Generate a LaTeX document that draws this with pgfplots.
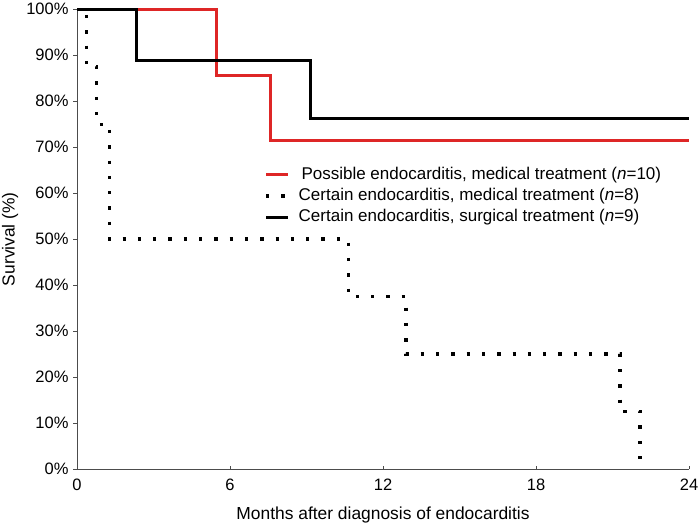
\documentclass[border=0pt]{standalone}
\usepackage{fontspec}
\setmainfont{Liberation Sans}
\usepackage{pgfplots}
\pgfplotsset{compat=1.18}
\definecolor{kmred}{RGB}{222,38,38}
\begin{document}
\begin{tikzpicture}
\useasboundingbox (-77pt,-58pt) rectangle (623pt,469pt);
\begin{axis}[
  scale only axis,
  width=612pt, height=459.7pt,
  xmin=0, xmax=24, ymin=0, ymax=100,
  axis lines=left,
  axis line style={-, line width=1pt, black!70},
  clip=false,
  xtick={0,6,12,18,24},
  xticklabels={0,6,12,18,24},
  ytick={0,10,...,100},
  yticklabels={0\%,10\%,20\%,30\%,40\%,50\%,60\%,70\%,80\%,90\%,100\%},
  xtick align=inside,
  ytick align=outside,
  major tick length=3.5pt,
  tick style={line width=1pt, black!70},
  tick label style={font=\fontsize{16.5}{19}\selectfont},
  xticklabel style={yshift=-6pt},
  yticklabel style={xshift=-1.5pt},
  xlabel={Months after diagnosis of endocarditis},
  ylabel={Survival (\%)},
  label style={font=\fontsize{17.4}{20}\selectfont},
  xlabel style={at={(rel axis cs:0.5,0)}, anchor=center, yshift=-46pt},
  ylabel style={at={([xshift=-67pt]rel axis cs:0,0.5)}, anchor=center},
  legend style={at={(axis cs:7.22,66.4)}, anchor=north west, draw=none, fill=none,
    font=\fontsize{17}{20}\selectfont, row sep=3.2pt,
    nodes={inner sep=1pt, text height=12.5pt, text depth=3.5pt}},
  legend cell align=left,
  legend image code/.code={\draw[#1] (0pt,0pt) -- (22pt,0pt); \path (30pt,0pt);},
]
\addplot[kmred, line width=3pt] coordinates {
  (0,100) (5.48,100) (5.48,85.7) (7.57,85.7) (7.57,71.4) (24,71.4)};
\addlegendentry{\,Possible endocarditis, medical treatment (\emph{n}=10)}
\addplot[black, line width=3.4pt, dash pattern=on 3.3pt off 12pt] coordinates {
  (0,100) (0.38,100) (0.38,87.5) (0.77,87.5) (0.77,75) (1.27,75) (1.27,50)
  (10.65,50) (10.65,37.5) (12.9,37.5) (12.9,25) (21.29,25) (21.29,12.5)
  (22.08,12.5) (22.08,0)};
\addlegendentry{Certain endocarditis, medical treatment (\emph{n}=8)}
\addplot[black, line width=3pt] coordinates {
  (0,100) (2.35,100) (2.35,88.9) (9.14,88.9) (9.14,76.2) (24,76.2)};
\addlegendentry{Certain endocarditis, surgical treatment (\emph{n}=9)}
\end{axis}
\end{tikzpicture}
\end{document}
